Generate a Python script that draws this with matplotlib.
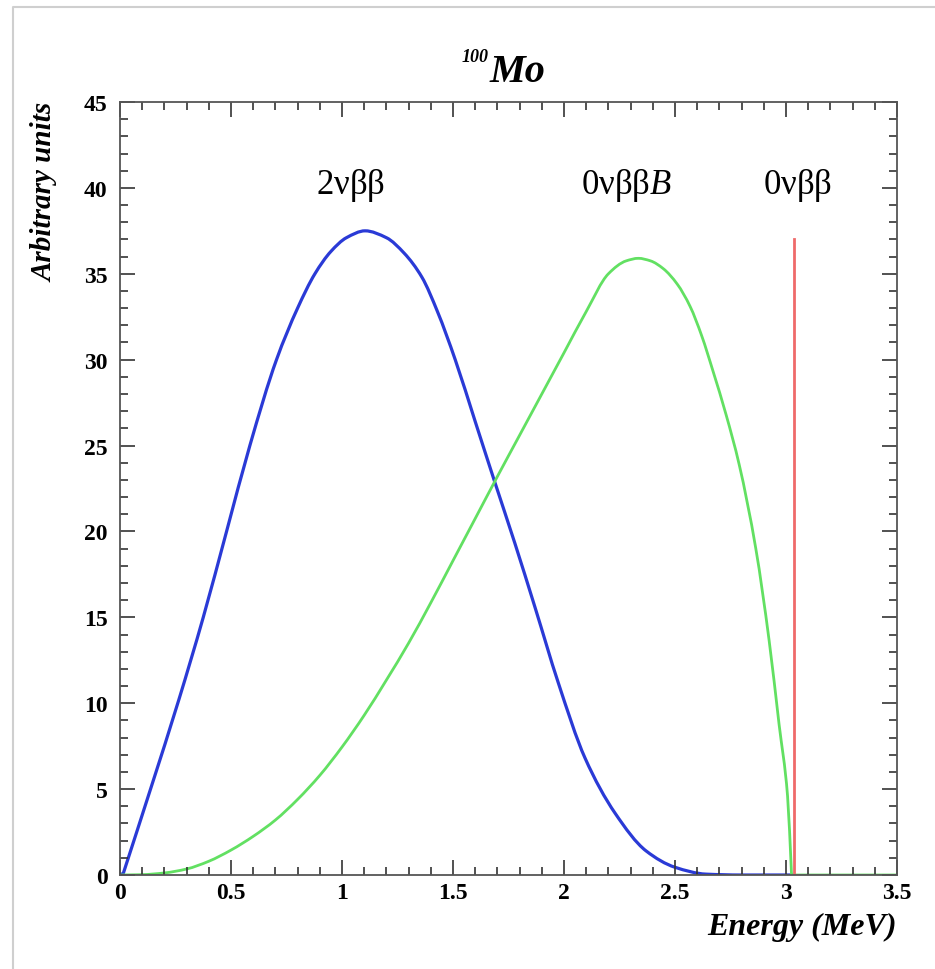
import matplotlib
matplotlib.use("Agg")
import numpy as np
import matplotlib.pyplot as plt
from matplotlib.ticker import MultipleLocator
from matplotlib.lines import Line2D
from matplotlib.path import Path
from matplotlib.patches import PathPatch

# ---- data ----
energy_2nu = [0.0, 0.015, 0.14, 0.265, 0.375, 0.48, 0.585, 0.705, 0.80, 0.878,
              0.95, 1.02, 1.104, 1.20, 1.28, 1.36, 1.43, 1.51, 1.60, 1.685,
              1.779, 1.869, 1.974, 2.095, 2.23, 2.37, 2.50, 2.64, 2.80, 3.03]
counts_2nu = [0.0, 0.1, 5.1, 10.2, 15.0, 20.0, 25.0, 30.0, 33.0, 35.0,
              36.3, 37.1, 37.5, 37.1, 36.2, 34.8, 32.8, 30.0, 26.4, 23.0,
              19.3, 15.6, 11.2, 6.8, 3.6, 1.4, 0.45, 0.05, 0.0, 0.0]

energy_maj = [0.0, 0.1, 0.2, 0.3, 0.4, 0.5, 0.6, 0.7, 0.8, 0.9, 1.0, 1.1,
              1.2, 1.3, 1.4, 1.5, 1.6, 1.7, 1.8, 1.9, 2.0, 2.1, 2.2, 2.28,
              2.335, 2.39, 2.447, 2.51, 2.568, 2.62, 2.672, 2.73, 2.789,
              2.864, 2.924, 2.969, 3.007, 3.025, 3.5]
counts_maj = [0.0, 0.02, 0.12, 0.35, 0.8, 1.45, 2.25, 3.2, 4.4, 5.8, 7.45, 9.3,
              11.35, 13.5, 15.85, 18.3, 20.75, 23.2, 25.6, 28.0, 30.4, 32.8, 35.0, 35.75,
              35.9, 35.75, 35.3, 34.4, 33.1, 31.4, 29.3, 26.8, 23.9,
              19.0, 13.65, 8.75, 4.6, 0.0, 0.0]

energy_0nu = [3.034, 3.034]
counts_0nu = [0.0, 37.0]

xticks = [0, 0.5, 1, 1.5, 2, 2.5, 3, 3.5]
xticklabels = ["0", "0.5", "1", "1.5", "2", "2.5", "3", "3.5"]
yticks = [0, 5, 10, 15, 20, 25, 30, 35, 40, 45]


def smooth_path(xs, ys, corners=()):
    """Monotone cubic (PCHIP-style) Bezier path through the given points.
    Indices in `corners` are treated as sharp corners."""
    x = np.asarray(xs, float)
    y = np.asarray(ys, float)
    n = len(x)
    h = np.diff(x)
    d = np.diff(y) / h
    m = np.zeros(n)
    for i in range(1, n - 1):
        if d[i - 1] * d[i] <= 0:
            m[i] = 0.0
        else:
            w1 = 2 * h[i] + h[i - 1]
            w2 = h[i] + 2 * h[i - 1]
            m[i] = (w1 + w2) / (w1 / d[i - 1] + w2 / d[i])
    m[0] = d[0]
    m[-1] = d[-1]
    verts = [(x[0], y[0])]
    codes = [Path.MOVETO]
    for i in range(n - 1):
        mi = m[i] if i not in corners else d[i]
        mj = m[i + 1] if (i + 1) not in corners else d[i]
        verts += [(x[i] + h[i] / 3, y[i] + mi * h[i] / 3),
                  (x[i + 1] - h[i] / 3, y[i + 1] - mj * h[i] / 3),
                  (x[i + 1], y[i + 1])]
        codes += [Path.CURVE4] * 3
    return Path(verts, codes)


W, H = 935, 970
fig = plt.figure(figsize=(W / 100, H / 100), dpi=100)
ax = fig.add_axes([120 / W, 1 - 876 / H, (897 - 120) / W, (876 - 103) / H])

p_blue = smooth_path(energy_2nu, counts_2nu, corners=(0, 1))
p_green = smooth_path(energy_maj, counts_maj, corners=(len(energy_maj) - 2, len(energy_maj) - 1))
ax.add_patch(PathPatch(p_blue, fill=False, edgecolor="#2a3ad6", lw=2.3, capstyle="round"))
ax.add_patch(PathPatch(p_green, fill=False, edgecolor="#62e062", lw=2.0, capstyle="round"))
ax.plot(energy_0nu, counts_0nu, color="#ef6a6a", lw=2.0)

ax.set_xlim(0, 3.5)
ax.set_ylim(0, 45)
ax.set_xticks(xticks)
ax.set_xticklabels(xticklabels)
ax.set_yticks(yticks)
ax.xaxis.set_minor_locator(MultipleLocator(0.1))
ax.yaxis.set_minor_locator(MultipleLocator(1))
ax.tick_params(which="both", direction="in", top=True, right=True, color="#333333", width=1.2)
ax.tick_params(which="major", length=11)
ax.tick_params(which="minor", length=5.5)
ax.tick_params(axis="x", which="major", pad=5)
ax.tick_params(axis="y", which="major", pad=9)
for lab in ax.get_xticklabels() + ax.get_yticklabels():
    lab.set_fontfamily("Liberation Serif")
    lab.set_fontweight("bold")
    lab.set_fontsize(17)
for s in ax.spines.values():
    s.set_color("#555555")
    s.set_linewidth(1.3)

plt.rcParams["mathtext.fontset"] = "custom"
plt.rcParams["mathtext.rm"] = "Liberation Serif"
plt.rcParams["mathtext.it"] = "Liberation Serif:italic"
plt.rcParams["mathtext.bf"] = "Liberation Serif:bold"

ax.text(1.0, -0.067, "Energy (MeV)", transform=ax.transAxes, ha="right", va="center",
        fontsize=23, family="Liberation Serif", weight="bold", style="italic")
ax.text(-0.097, 1.0, "Arbitrary units", transform=ax.transAxes, ha="center", va="top",
        rotation=90, fontsize=21, family="Liberation Serif", weight="bold", style="italic")

ax.text(1.04, 40.2, r"$\mathrm{2νββ}$", ha="center", va="center", fontsize=25)
ax.text(2.28, 40.2, r"$\mathit{0}\mathrm{νββ}\mathit{B}$", ha="center", va="center", fontsize=25)
ax.text(3.05, 40.2, r"$\mathit{0}\mathrm{νββ}$", ha="center", va="center", fontsize=25)

# title with superscript mass number
fig.text(490 / W, 1 - 82 / H, "Mo", ha="left", va="baseline", fontsize=29,
         family="Liberation Serif", weight="bold", style="italic")
fig.text(489 / W, 1 - 62 / H, "100", ha="right", va="baseline", fontsize=13,
         family="Liberation Serif", weight="bold", style="italic")

# outer light frame
fig.add_artist(Line2D([13 / W, 13 / W, 1.0], [0.0, 1 - 8 / H, 1 - 8 / H],
                      transform=fig.transFigure, color="#cfcfcf", lw=1.5))

fig.savefig("out.png", dpi=100)
